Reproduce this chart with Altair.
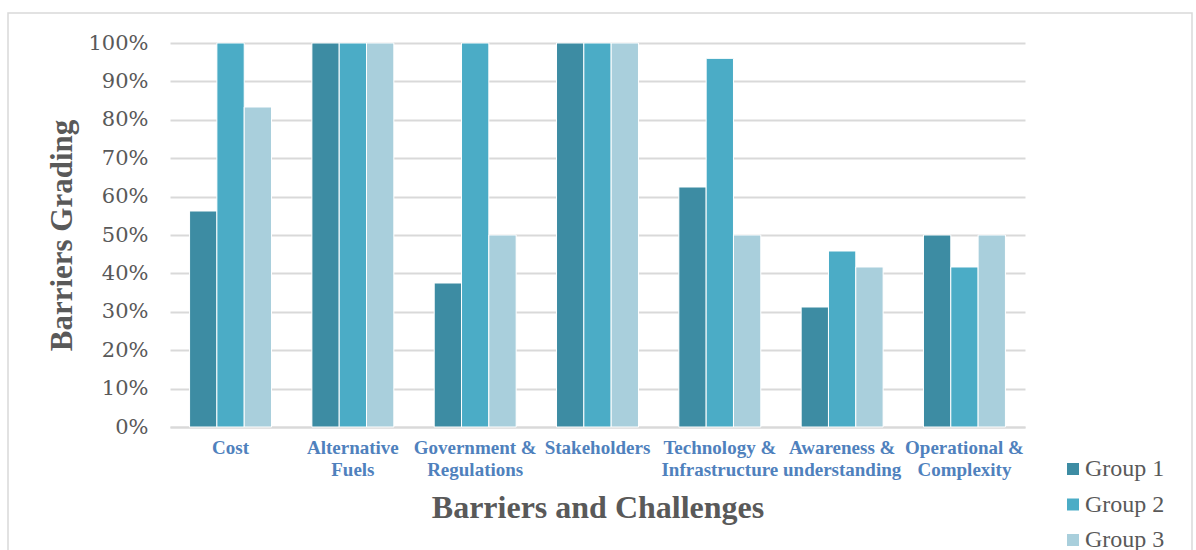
import altair as alt
import pandas as pd

categories = [
    "Cost",
    "Alternative Fuels",
    "Government & Regulations",
    "Stakeholders",
    "Technology & Infrastructure",
    "Awareness & understanding",
    "Operational & Complexity",
]
label_lines = [
    ["Cost"],
    ["Alternative", "Fuels"],
    ["Government &", "Regulations"],
    ["Stakeholders"],
    ["Technology &", "Infrastructure"],
    ["Awareness &", "understanding"],
    ["Operational &", "Complexity"],
]
groups = ["Group 1", "Group 2", "Group 3"]
group1 = [0.5625, 1.00, 0.375, 1.00, 0.625, 0.3125, 0.50]
group2 = [1.00, 1.00, 1.00, 1.00, 0.96, 0.4583, 0.4167]
group3 = [0.8333, 1.00, 0.50, 1.00, 0.50, 0.4167, 0.50]
colors = ["#3d8ca3", "#4bacc6", "#a9cfdc"]

rows = []
for g, vals in zip(groups, [group1, group2, group3]):
    for c, v in zip(categories, vals):
        rows.append({"category": c, "group": g, "value": v})
df = pd.DataFrame(rows)

# multi-line category labels via a ternary chain
expr = "''"
for c, lines in reversed(list(zip(categories, label_lines))):
    arr = "[" + ",".join("'" + s + "'" for s in lines) + "]"
    expr = f"datum.value == '{c}' ? {arr} : ({expr})"

serif = "Liberation Serif"
gray = "#595959"

bars = alt.Chart(df).mark_bar(stroke="white", strokeWidth=1).encode(
    x=alt.X(
        "category:N",
        sort=categories,
        scale=alt.Scale(paddingInner=0.33, paddingOuter=0.16),
        axis=alt.Axis(
            title="Barriers and Challenges",
            labelAngle=0,
            labelExpr=expr,
            labelFont=serif,
            labelFontWeight="bold",
            labelFontSize=19,
            labelColor="#4f81bd",
            labelLineHeight=22,
            labelPadding=11,
            labelLimit=200,
            ticks=False,
            domainColor="#d9d9d9",
            domainWidth=2,
            titleFont=serif,
            titleFontSize=32,
            titleFontWeight="bold",
            titleColor=gray,
            titleY=80,
            titleBaseline="middle",
        ),
    ),
    xOffset=alt.XOffset("group:N", sort=groups, scale=alt.Scale(paddingInner=0, paddingOuter=0)),
    y=alt.Y(
        "value:Q",
        scale=alt.Scale(domain=[0, 1], nice=False),
        axis=alt.Axis(
            title="Barriers Grading",
            values=[i / 10 for i in range(11)],
            format=".0%",
            labelFont="DejaVu Serif",
            labelFontSize=21,
            labelColor=gray,
            labelPadding=22,
            ticks=False,
            domain=False,
            gridColor="#d9d9d9",
            gridWidth=2,
            titleFont=serif,
            titleFontSize=31,
            titleFontWeight="bold",
            titleColor=gray,
            titleX=-108,
            titleY=192,
            titleAlign="center",
            titleBaseline="middle",
            titleAngle=270,
        ),
    ),
    color=alt.Color(
        "group:N",
        sort=groups,
        scale=alt.Scale(domain=groups, range=colors),
        legend=alt.Legend(
            title=None,
            orient="none",
            legendX=891,
            legendY=414,
            symbolType="square",
            symbolSize=144,
            symbolStrokeWidth=0,
            labelFont=serif,
            labelFontSize=24,
            labelColor=gray,
            rowPadding=11.5,
            labelOffset=0,
        ),
    ),
)

frame = alt.Chart(pd.DataFrame({"k": [0]})).mark_rect(
    fill=None, stroke="#d9d9d9", strokeWidth=1.5
).encode(
    x=alt.value(-162), x2=alt.value(1022), y=alt.value(-30), y2=alt.value(520)
)

chart = alt.layer(frame, bars).properties(
    width=855,
    height=384,
    padding={"left": 170, "top": 43, "right": 171, "bottom": 123},
    autosize=alt.AutoSizeParams(type="none"),
    background="white",
).configure_view(stroke=None)

chart.save("out.html", embed_options={"renderer": "svg", "actions": False})
